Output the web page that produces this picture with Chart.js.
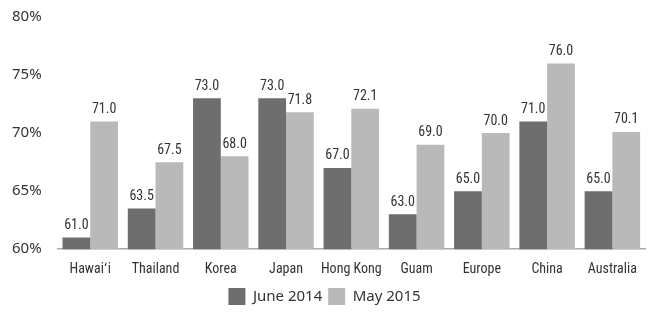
<!DOCTYPE html>
<html>
<head>
<meta charset="utf-8">
<script src="https://cdn.jsdelivr.net/npm/chart.js@4/dist/chart.umd.min.js"></script>
<style>
  html, body { margin: 0; padding: 0; background: #fff; }
  #wrap { width: 657px; height: 315px; }
</style>
</head>
<body>
<div id="wrap"><canvas id="barChart" width="657" height="315"></canvas></div>
<script>
const destinations = ['Hawai\u02BBi', 'Thailand', 'Korea', 'Japan', 'Hong Kong', 'Guam', 'Europe', 'China', 'Australia'];
const june2014 = [61.0, 63.5, 73.0, 73.0, 67.0, 63.0, 65.0, 71.0, 65.0];
const may2015 = [71.0, 67.5, 68.0, 71.8, 72.1, 69.0, 70.0, 76.0, 70.1];
const yTicks = [60, 65, 70, 75, 80];

const grays = ['#6e6e6e', '#b9b9b9'];
const narrow = '"Liberation Sans Narrow", "Roboto Condensed", "DejaVu Sans Condensed", sans-serif';

// draws value labels above each bar
const valueLabels = {
    id: 'valueLabels',
    afterDatasetsDraw(chart) {
        const ctx = chart.ctx;
        ctx.save();
        ctx.font = '14px ' + narrow;
        ctx.fillStyle = '#333';
        ctx.textAlign = 'center';
        ctx.textBaseline = 'bottom';
        chart.data.datasets.forEach((ds, i) => {
            chart.getDatasetMeta(i).data.forEach((bar, j) => {
                ctx.fillText(ds.data[j].toFixed(1), bar.x, bar.y - 5);
            });
        });
        ctx.restore();
    }
};

new Chart(document.getElementById('barChart'), {
    type: 'bar',
    data: {
        labels: destinations,
        datasets: [
            { label: 'June 2014', data: june2014, backgroundColor: grays[0] },
            { label: 'May 2015', data: may2015, backgroundColor: grays[1] }
        ]
    },
    options: {
        responsive: false,
        animation: false,
        layout: { padding: { left: 4, right: 12, top: -4, bottom: 0 } },
        datasets: { bar: { categoryPercentage: 0.85, barPercentage: 1.0 } },
        plugins: {
            legend: {
                position: 'bottom',
                labels: {
                    boxWidth: 17, boxHeight: 17, padding: 6,
                    color: '#333',
                    font: { size: 15, family: '"Noto Sans", sans-serif' }
                }
            },
            tooltip: { enabled: false }
        },
        scales: {
            x: {
                grid: { display: false },
                border: { display: true, color: '#aaa', width: 1.5 },
                ticks: {
                    color: '#333', maxRotation: 0, autoSkip: false,
                    font: { size: 14, family: narrow }, padding: 4
                }
            },
            y: {
                min: 60, max: 80,
                afterBuildTicks: (axis) => { axis.ticks = yTicks.map(v => ({ value: v })); },
                grid: { display: false },
                border: { display: false },
                ticks: {
                    color: '#333',
                    padding: 8,
                    font: { size: 15, family: '"Noto Sans", sans-serif' },
                    callback: v => v + '%'
                }
            }
        }
    },
    plugins: [valueLabels]
});
</script>
</body>
</html>
